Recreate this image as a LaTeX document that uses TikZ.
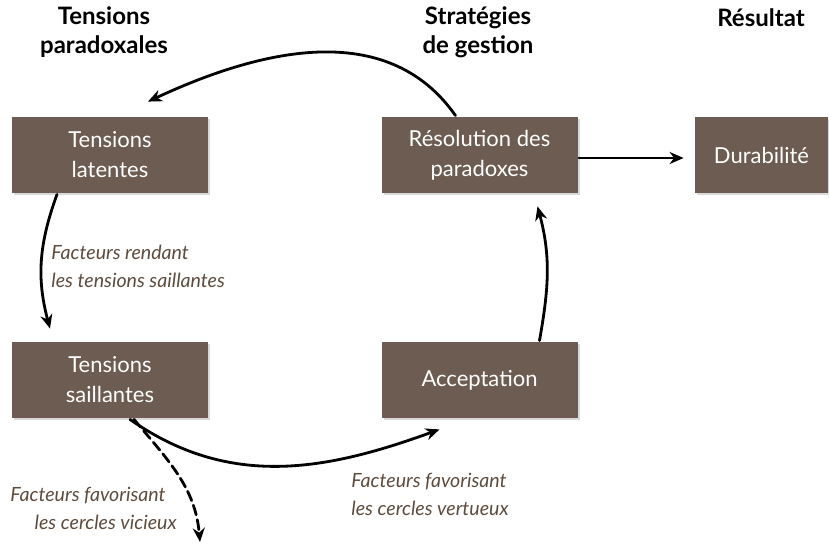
\documentclass[tikz,border=0pt]{standalone}
\usepackage{fontspec}
\setmainfont{Lato}
\usetikzlibrary{shadows,arrows.meta}
\definecolor{boxbrown}{HTML}{6D5C51}
\definecolor{labelbrown}{HTML}{5E4B3D}

\begin{document}
\begin{tikzpicture}[x=0.5pt, y=0.5pt, >={Stealth[length=7pt,width=6pt]},
                    line width=1.4pt, line cap=round,
  box/.style={fill=boxbrown, text=white, align=center, inner sep=2pt,
    minimum width=98pt, minimum height=38pt,
    font=\fontsize{11}{15}\selectfont,
    drop shadow={shadow xshift=1.2pt, shadow yshift=-1.2pt, opacity=0.3}},
  head/.style={align=center, font=\bfseries\fontsize{12}{14.5}\selectfont},
  factor/.style={text=labelbrown, inner sep=0pt,
    font=\itshape\fontsize{9.8}{14}\selectfont}]
  \useasboundingbox (0,0) rectangle (829,-545);

  % Column headings
  \node[head] (hten) at (104,-32) {Tensions\\paradoxales};
  \node[head] (hstr) at (478,-32) {Stratégies\\de gestion};
  \node[head] (hres) at (761,-18) {Résultat};

  % Boxes
  \node[box] (lat) at (110,-155) {Tensions\\latentes};
  \node[box] (res) at (479.5,-155) {Résolution des\\paradoxes};
  \node[box, minimum width=66.5pt] (dur) at (761.5,-155) {Durabilité};
  \node[box] (sal) at (110,-380) {Tensions\\saillantes};
  \node[box] (acc) at (479.5,-380) {Acceptation};

  % Cycle
  \draw[->] ([xshift=-12pt]res.north) to[out=125, in=25]
            ([xshift=19pt, yshift=7pt]lat.north);
  \draw[->] ([xshift=-26.5pt]lat.south) to[out=250, in=105]
            ([xshift=-30pt, yshift=6pt]sal.north);
  \draw[->] ([xshift=10pt]sal.south) to[out=-35, in=200]
            ([xshift=-20pt, yshift=-5pt]acc.south);
  \draw[->] ([xshift=30pt]acc.north) to[out=80, in=-75]
            ([xshift=29pt, yshift=-6pt]res.south);

  % Outcome
  \draw[->, shorten >=5pt] ([yshift=-1.5pt]res.east) -- ([yshift=-1.5pt]dur.west);

  % Vicious circle (dashed)
  \coordinate (vic) at (200,-542);
  \draw[->, dashed, dash pattern=on 5pt off 2.5pt]
       ([xshift=12pt]sal.south) to[out=-50, in=95] (vic);

  % Factor labels
  \node[factor, anchor=west, align=left] (frend) at (50,-266)
       {Facteurs rendant\\les tensions saillantes};
  \node[factor, anchor=east, align=right] (fvic) at (178,-508)
       {Facteurs favorisant\hspace*{5.5pt}\\les cercles vicieux};
  \node[factor, anchor=west, align=left] (fvert) at (350,-494)
       {Facteurs favorisant\\les cercles vertueux};
\end{tikzpicture}
\end{document}
